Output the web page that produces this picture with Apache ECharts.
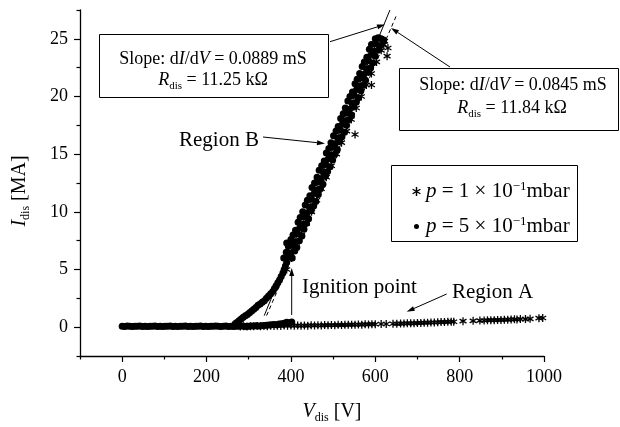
<!DOCTYPE html>
<html>
<head>
<meta charset="utf-8">
<script src="https://cdn.jsdelivr.net/npm/echarts@6/dist/echarts.min.js"></script>
<style>html,body{margin:0;padding:0;background:#fff}#main{width:620px;height:427px}</style>
</head>
<body>
<div id="main"></div>
<script>
// axis ticks
var xMajor = [0, 200, 400, 600, 800, 1000];
var xMinor = [-100, 100, 300, 500, 700, 900];
var yMajor = [0, 5, 10, 15, 20, 25];
var yMinor = [-2.5, 2.5, 7.5, 12.5, 17.5, 22.5, 27.5];

var P1 = 'p = 1 x 10^-1 mbar';
var P5 = 'p = 5 x 10^-1 mbar';

// p = 1e-1 mbar (asterisks): region A, flat part
var p1Flat = [
  [280,0.06],[288,0.08],[296,0.05],[304,0.09],[312,0.07],[320,0.1],[328,0.08],[336,0.11],[344,0.09],[352,0.12],
  [360,0.1],[368,0.13],[376,0.11],[384,0.14],[392,0.12],[400,0.15],[408,0.12],[416,0.14],[424,0.12],[432,0.15],
  [440,0.13],[448,0.16],[456,0.14],[464,0.17],[472,0.15],[480,0.18],[488,0.16],[496,0.19],[504,0.17],[512,0.2],
  [520,0.18],[528,0.21],[536,0.2],[544,0.22],[552,0.21],[560,0.23],[568,0.22],[576,0.25],[584,0.24],[592,0.26],
  [600,0.25],[614,0.27],[626,0.28],[642,0.29],[651,0.3],
  [660,0.31],[668,0.32],[676,0.33],[684,0.34],[692,0.33],[700,0.36],[708,0.37],[716,0.38],[724,0.39],[732,0.4],
  [740,0.41],[748,0.42],[756,0.44],[764,0.45],[772,0.46],[780,0.48],[786,0.47],
  [808,0.52],[832,0.55],[848,0.57],[858,0.58],
  [866,0.6],[874,0.61],[882,0.6],[890,0.63],[898,0.62],[906,0.64],[914,0.65],[922,0.66],[930,0.68],[936,0.67],
  [944,0.7],[956,0.7],[967,0.72],[988,0.78],[997,0.8]
];
// p = 1e-1 mbar: rising part (mostly hidden under the dots)
var p1Rise = [
  [390,5],[402,6],[413,7],[425,8],[437,9],[449,10],
  [461,11],[472,12],[484,13],[496,14],[508,15],[520,16],[532,17],[543,18],[555,19],[567,20],
  [579,21],[591,22],[603,23],[614,24],[620,24.5],
  [552,16.7],[591,21],[628,23.5],[630,24.2],[622,24.8],[612,25]
];

// p = 5e-1 mbar (dots): flat part up to ignition
var p5Flat = [
  [0,0.08],[6,0.06],[12,0.1],[18,0.07],[24,0.05],[30,0.09],[36,0.07],[42,0.1],[48,0.06],[54,0.08],
  [60,0.05],[66,0.09],[72,0.07],[78,0.1],[84,0.06],[90,0.08],[96,0.05],[102,0.09],[108,0.07],[114,0.1],
  [120,0.06],[126,0.08],[132,0.05],[138,0.09],[144,0.07],[150,0.1],[156,0.06],[162,0.08],[168,0.05],[174,0.09],
  [180,0.07],[186,0.1],[192,0.06],[198,0.08],[204,0.05],[210,0.09],[216,0.07],[222,0.1],[228,0.08],[234,0.06],
  [240,0.07],[246,0.1],[252,0.06],[258,0.08],[264,0.05],[270,0.09],[276,0.07],[282,0.1],[288,0.08],[294,0.06],
  [300,0.08],[306,0.11],[312,0.1],[318,0.12],[324,0.1],[330,0.13],[336,0.15],[342,0.17],[348,0.18],[354,0.2],
  [360,0.24],[366,0.22],[372,0.27],[378,0.3],[384,0.35],[390,0.42],[396,0.38],[402,0.45]
];
// p = 5e-1 mbar: region B
var p5Rise = [
  [268,0.3],[272,0.4],[277,0.55],[282,0.7],[287,0.85],[292,1.0],[297,1.1],[302,1.25],[307,1.4],[312,1.55],
  [317,1.7],[322,1.9],[327,2.0],[332,2.15],[337,2.3],[342,2.5],[347,2.7],[352,2.9],[357,3.1],[361,3.35],
  [365,3.6],[369,3.85],[373,4.1],[377,4.4],[381,4.7],[384,5.0],[387,5.3],[390,5.6],[390,7.3],
  [383,6.0],[393,6.1],[403,6.0],[389,6.5],[399,6.4],[409,6.6],[394,7.0],[404,7.1],[414,6.9],
  [400,7.6],[410,7.4],[420,7.5],[405,8.0],[416,8.1],[426,7.9],[411,8.4],[421,8.6],[431,8.5],
  [417,9.1],[427,8.9],[437,9.0],[422,9.5],[432,9.6],[442,9.4],[428,10.0],[438,9.9],[448,10.1],
  [434,10.6],[444,10.4],[454,10.5],[439,11.0],[449,11.1],[459,10.9],[445,11.4],[455,11.6],[465,11.5],
  [450,12.1],[460,11.9],[470,12.0],[456,12.5],[466,12.6],[476,12.4],[462,13.0],[472,12.9],[482,13.1],
  [467,13.6],[477,13.4],[487,13.5],[473,14.0],[483,14.1],[493,13.9],[479,14.4],[489,14.6],[499,14.5],
  [484,15.1],[494,14.9],[504,15.0],[490,15.5],[500,15.6],[510,15.4],[495,16.0],[505,15.9],[515,16.1],
  [501,16.6],[511,16.4],[521,16.5],[507,17.0],[517,17.1],[527,16.9],[512,17.4],[522,17.6],[532,17.5],
  [518,18.1],[528,17.9],[538,18.0],[524,18.5],[534,18.6],[544,18.4],[529,19.0],[539,18.9],[549,19.1],
  [535,19.6],[545,19.4],[555,19.5],[540,20.0],[550,20.1],[560,19.9],[546,20.4],[556,20.6],[566,20.5],
  [552,21.1],[562,20.9],[572,21.0],[557,21.5],[567,21.6],[577,21.4],[563,22.0],[573,21.9],[583,22.1],
  [569,22.6],[579,22.4],[589,22.5],[574,23.0],[584,23.1],[594,22.9],[580,23.4],[590,23.6],[600,23.5],
  [586,24.1],[596,23.9],[606,24.0],[591,24.5],[601,24.6],[611,24.4],
  [600,25.0],[607,25.1],[614,25.0],[620,24.9]
];

// linear fits
var fitSolid = [[336.7, 1], [634.8, 27.5]];   // 0.0889 mS
var fitDashed = [[342.3, 1], [650.6, 27.06]]; // 0.0845 mS

var FONT = '"Liberation Serif", "Times New Roman", serif';
var asterisk = 'path://M-0.8,-5L0.8,-5L0.8,5L-0.8,5ZM3.93,-3.19L4.73,-1.81L-3.93,3.19L-4.73,1.81ZM4.73,1.81L3.93,3.19L-4.73,-1.81L-3.93,-3.19Z';
// small dot inside a 10x10 box, for the legend
var smallDot = 'path://M-5,-5L-5,-5ZM5,5L5,5ZM-2.8,0A2.8,2.8 0 1,0 2.8,0A2.8,2.8 0 1,0 -2.8,0Z';

var legendText = {};
legendText[P1] = '{i|p} = 1 × 10{sup|−1}mbar';
legendText[P5] = '{i|p} = 5 × 10{sup|−1}mbar';

function richFor(size) {
  return {
    i: { fontFamily: FONT, fontSize: size, fontStyle: 'italic', color: '#000' },
    sub: { fontFamily: FONT, fontSize: Math.round(size * 0.6), color: '#000', padding: [12, 0, 0, 0] },
    sup: { fontFamily: FONT, fontSize: Math.round(size * 0.6), color: '#000', padding: [0, 0, 10, 0] }
  };
}

function label(text, x, y, size, align, rot) {
  return {
    type: 'text', x: x, y: y, rotation: rot || 0, z: 10,
    style: {
      text: text, fill: '#000', fontFamily: FONT, fontSize: size,
      font: size + 'px ' + FONT,
      align: align || 'center', verticalAlign: 'middle',
      textAlign: align || 'center', textVerticalAlign: 'middle',
      rich: richFor(size)
    }
  };
}

function box(x, y, w, h, fill) {
  return { type: 'rect', z: 9, shape: { x: x, y: y, width: w, height: h },
    style: { fill: fill || '#fff', stroke: '#000', lineWidth: 1 } };
}

function arrow(x1, y1, x2, y2) {
  var dx = x2 - x1, dy = y2 - y1, len = Math.sqrt(dx * dx + dy * dy);
  var ux = dx / len, uy = dy / len, L = 8, W = 2.5;
  var bx = x2 - ux * L, by = y2 - uy * L;
  return [
    { type: 'line', z: 10, shape: { x1: x1, y1: y1, x2: bx, y2: by }, style: { stroke: '#000', lineWidth: 1 } },
    { type: 'polygon', z: 10, shape: { points: [[x2, y2], [bx - uy * W, by + ux * W], [bx + uy * W, by - ux * W]] },
      style: { fill: '#000' } }
  ];
}

var axisCommon = {
  type: 'value',
  splitLine: { show: false },
  axisLine: { show: true, onZero: false, lineStyle: { color: '#000', width: 1.3 } }
};

var chart = echarts.init(document.getElementById('main'), null, { renderer: 'canvas' });

var graphics = [
  box(99.5, 34.5, 229, 63),
  label('Slope: d{i|I}/d{i|V} = 0.0889 mS', 213, 59, 18),
  label('{i|R}{sub|dis} = 11.25 kΩ', 213, 80, 18),
  box(399.5, 68.5, 219, 62),
  label('Slope: d{i|I}/d{i|V} = 0.0845 mS', 513, 85, 18),
  label('{i|R}{sub|dis} = 11.84 kΩ', 512, 108, 18),
  box(391.5, 165.5, 186, 76, 'none'),
  label('Region B', 219, 140, 21),
  label('Ignition point', 302, 287, 21, 'left'),
  label('Region A', 452, 292, 21, 'left'),
  label('{i|V}{sub|dis} [V]', 332, 412, 20),
  label('{i|I}{sub|dis} [MA]', 20, 191, 20, 'center', Math.PI / 2)
]
  .concat(arrow(330, 41.7, 385, 24.5))
  .concat(arrow(450, 67, 391, 28))
  .concat(arrow(263, 137, 325, 143.5))
  .concat(arrow(291.7, 315, 291.7, 268))
  .concat(arrow(446.7, 294, 406.7, 311.7));

function plain(v) { return String(v); }

var option = {
  animation: false,
  backgroundColor: '#fff',
  grid: { left: 80, right: 76, top: 10, bottom: 71, outerBoundsMode: 'none' },
  xAxis: [
    Object.assign({}, axisCommon, {
      min: -100, max: 1000, position: 'bottom',
      axisTick: { show: true, customValues: xMajor, length: 6, lineStyle: { color: '#000', width: 1.2 } },
      axisLabel: { customValues: xMajor, formatter: plain, margin: 12, color: '#000', fontFamily: FONT, fontSize: 18 }
    }),
    Object.assign({}, axisCommon, {
      min: -100, max: 1000, position: 'bottom',
      axisLine: { show: false, onZero: false },
      axisTick: { show: true, customValues: xMinor, length: 3.5, lineStyle: { color: '#000', width: 1.2 } },
      axisLabel: { show: false }
    })
  ],
  yAxis: [
    Object.assign({}, axisCommon, {
      min: -2.5, max: 27.5, position: 'left',
      axisTick: { show: true, customValues: yMajor, length: 6, lineStyle: { color: '#000', width: 1.2 } },
      axisLabel: { customValues: yMajor, formatter: plain, margin: 12, color: '#000', fontFamily: FONT, fontSize: 18 }
    }),
    Object.assign({}, axisCommon, {
      min: -2.5, max: 27.5, position: 'left',
      axisLine: { show: false, onZero: false },
      axisTick: { show: true, customValues: yMinor, length: 3.5, lineStyle: { color: '#000', width: 1.2 } },
      axisLabel: { show: false }
    })
  ],
  legend: {
    data: [{ name: P1, icon: asterisk }, { name: P5, icon: smallDot }],
    orient: 'vertical', left: 412, top: 180, padding: 0, z: 20,
    itemWidth: 9, itemHeight: 9, itemGap: 13,
    formatter: function (name) { return legendText[name]; },
    textStyle: { fontFamily: FONT, fontSize: 21, color: '#000', rich: richFor(21) }
  },
  series: [
    { name: P1, type: 'scatter', data: p1Flat.concat(p1Rise), symbol: asterisk, symbolSize: 8,
      symbolKeepAspect: true, itemStyle: { color: '#000', opacity: 1 } },
    { name: P5, type: 'scatter', data: p5Flat.concat(p5Rise), symbol: 'circle', symbolSize: 7,
      itemStyle: { color: '#000', opacity: 1 } },
    { name: 'fit1', type: 'line', data: fitSolid, showSymbol: false, symbol: 'none',
      lineStyle: { color: '#000', width: 1 } },
    { name: 'fit2', type: 'line', data: fitDashed, showSymbol: false, symbol: 'none',
      lineStyle: { color: '#000', width: 1, type: [4, 3] } }
  ],
  graphic: graphics
};

chart.setOption(option);
</script>
</body>
</html>
